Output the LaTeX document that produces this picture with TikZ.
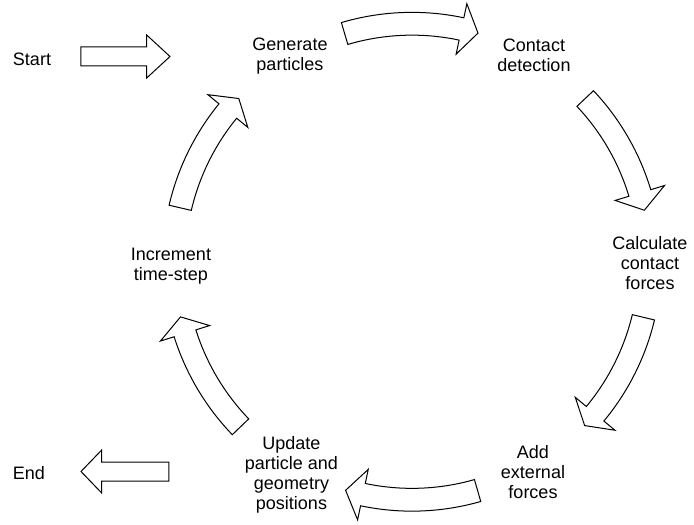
\documentclass[tikz,border=0pt]{standalone}
\usepackage{fontspec}
\setmainfont{Liberation Sans}
\usetikzlibrary{calc}

\tikzset{
  block/.style={draw=black, line width=1pt, fill=white, line join=miter},
  lbl/.style={anchor=north, inner sep=0pt, align=center,
              font=\fontsize{18}{20}\selectfont},
}

% straight block arrow: tail point, head-base point, tip point (all on one horizontal line)
\newcommand\straightblock[3]{%
  \draw[block] ($(#1)+(0,9.5)$) -- ($(#2)+(0,9.5)$) -- ($(#2)+(0,21.5)$)
    -- (#3) -- ($(#2)+(0,-21.5)$) -- ($(#2)+(0,-9.5)$) -- ($(#1)+(0,-9.5)$) -- cycle;}

% curved block arrow on the cycle around (hub): tail angle, head-base angle, tip angle
\newcommand\cyclearrow[3]{%
  \draw[block] ([shift={(#1:226.6pt)}]hub) arc[start angle=#1, end angle=#2, radius=226.6pt]
    -- ([shift={(#2:212.2pt)}]hub) -- ([shift={(#3:238pt)}]hub)
    -- ([shift={(#2:263.8pt)}]hub) -- ([shift={(#2:249.4pt)}]hub)
    arc[start angle=#2, end angle=#1, radius=249.4pt] -- cycle;}

\begin{document}
\begin{tikzpicture}[x=1pt, y=1pt]
  \fill[white] (-412,-263.25) rectangle (282,261.75);
  \useasboundingbox (-412,-263.25) rectangle (282,261.75);

  \coordinate (hub) at (0,0);

  % step labels
  \node[lbl] (start)   at (-380,209)   {Start};
  \node[lbl] (gen)     at (-122,224.5) {Generate\\particles};
  \node[lbl] (contact) at (122,223.5)  {Contact\\detection};
  \node[lbl] (calc)    at (238,25)     {Calculate\\contact\\forces};
  \node[lbl] (addf)    at (121,-183.3) {Add\\external\\forces};
  \node[lbl] (update)  at (-120.5,-175) {Update\\particle and\\geometry\\positions};
  \node[lbl] (incr)    at (-241,14)    {Increment\\time-step};
  \node[lbl] (endn)    at (-383,-205)  {End};

  % entry and exit arrows
  \coordinate (inTail) at (-331,205.25);
  \coordinate (inBase) at (-265.3,205.25);
  \coordinate (inTip)  at (-242,205.25);
  \straightblock{inTail}{inBase}{inTip}

  \coordinate (outTail) at (-243,-209.75);
  \coordinate (outBase) at (-310.3,-209.75);
  \coordinate (outTip)  at (-331,-209.75);
  \straightblock{outTail}{outBase}{outTip}

  % the six arrows of the time-step loop, clockwise
  \cyclearrow{106.45}{78}{73.9}
  \cyclearrow{43.3}{16.8}{12.5}
  \cyclearrow{-13.5}{-39.7}{-43.5}
  \cyclearrow{-74}{-101.9}{-106.2}
  \cyclearrow{-136.1}{-162.5}{-166.6}
  \cyclearrow{166.9}{140.7}{136.7}
\end{tikzpicture}
\end{document}
